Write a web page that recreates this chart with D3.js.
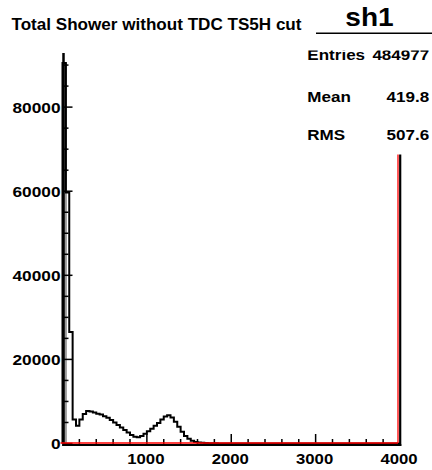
<!DOCTYPE html>
<html><head><meta charset="utf-8">
<script src="https://cdn.jsdelivr.net/npm/d3@7"></script>
<style>
body{margin:0;background:#fff}
svg{display:block}
text{font-family:"Liberation Sans",Arial,Helvetica,sans-serif;font-weight:bold;fill:#000}
</style>
</head><body>
<script>
// ---- data ----
const titleText = "Total Shower without TDC TS5H cut";
const statsName = "sh1";
const statsLabels = ["Entries", "Mean", "RMS"];
const statsValues = ["484977", "419.8", "507.6"];
const xRange = [0, 4000];
const binWidth = 40;
const yMax = 92870;
const xTickValues = [1000, 2000, 3000, 4000];
const yTickValues = [0, 20000, 40000, 60000, 80000];
// black histogram (bins of 40)
const countsMain = [
  90500, 59700, 26500, 5700, 4200, 5700, 7000, 7700, 7600, 7400,
  7100, 6900, 6500, 6100, 5600, 5000, 4400, 3800, 3200, 2600,
  2000, 1600, 1500, 1800, 2300, 2900, 3500, 4200, 4900, 5700,
  6400, 6700, 6200, 5200, 4000, 2800, 1800, 1100, 650, 380,
  230, 150, 100, 70, 50, 35, 25, 18, 12, 8,
  5, 3, 2, 1, 0, 0, 0, 0, 0, 0,
  0, 0, 0, 0, 0, 0, 0, 0, 0, 0,
  0, 0, 0, 0, 0, 0, 0, 0, 0, 0,
  0, 0, 0, 0, 0, 0, 0, 0, 0, 0,
  0, 0, 0, 0, 0, 0, 0, 0, 0, 0
];
// red histogram (empty within range)
const countsCut = countsMain.map(() => 0);

// ---- drawing ----
const W = 432, H = 470;
const svg = d3.select("body").append("svg").attr("width", W).attr("height", H);
const x = d3.scaleLinear().domain(xRange).range([62.5, 400]);
const y = d3.scaleLinear().domain([0, yMax]).range([443.5, 53]);

function fitWidth(sel, perChar) {
  sel.attr("textLength", d => String(d).length * perChar).attr("lengthAdjust", "spacingAndGlyphs");
}
function stretch(sel, f) {
  sel.each(function () {
    const L = this.getComputedTextLength();
    d3.select(this).attr("textLength", L * f).attr("lengthAdjust", "spacingAndGlyphs");
  });
}

const defs = svg.append("defs");
defs.append("clipPath").attr("id", "frameClip").append("rect")
  .attr("x", 0).attr("y", y(yMax)).attr("width", W).attr("height", H);
defs.append("clipPath").attr("id", "statClip").append("rect")
  .attr("x", 290).attr("y", 50.5).attr("width", 142).attr("height", 110);

function histPath(counts) {
  const p = d3.path();
  p.moveTo(x(xRange[0]), y(0));
  counts.forEach((c, i) => {
    const x0 = x(xRange[0] + i * binWidth), x1 = x(xRange[0] + (i + 1) * binWidth);
    p.lineTo(x0, y(c));
    p.lineTo(x1, y(c));
  });
  p.lineTo(x(xRange[1]), y(0));
  return p.toString();
}

const g = svg.append("g").attr("clip-path", "url(#frameClip)");
g.append("rect")
  .attr("x", x(0)).attr("width", x(binWidth) - x(0) + 1)
  .attr("y", y(countsMain[0])).attr("height", y(0) - y(countsMain[0]))
  .attr("fill", "#9a9a9a");
g.append("path").attr("d", histPath(countsMain))
  .attr("fill", "none").attr("stroke", "#000").attr("stroke-width", 2);
// right frame edge (black)
g.append("line").attr("x1", x(xRange[1]) + 0.2).attr("x2", x(xRange[1]) + 0.2)
  .attr("y1", y(yMax)).attr("y2", 446).attr("stroke", "#000").attr("stroke-width", 2.2);

// axes
const yAxisG = svg.append("g");
yAxisG.append("line").attr("x1", 63.5).attr("x2", 63.5).attr("y1", y(yMax)).attr("y2", 446)
  .attr("stroke", "#000").attr("stroke-width", 2.5);
d3.range(0, yMax, 5000).forEach(v => {
  const major = v % 20000 === 0;
  yAxisG.append("line").attr("x1", 63.5).attr("x2", 63.5 + (major ? 9 : 5))
    .attr("y1", y(v)).attr("y2", y(v)).attr("stroke", "#000").attr("stroke-width", 1.5);
});
yAxisG.selectAll("text.yl").data(yTickValues).join("text").attr("class", "yl")
  .attr("x", 60.5).attr("y", d => y(d) + 5.5).attr("text-anchor", "end")
  .attr("font-size", 15).text(d => d).call(fitWidth, 9.6);

const xAxisG = svg.append("g");
xAxisG.append("line").attr("x1", 62.3).attr("x2", 401.3).attr("y1", 445).attr("y2", 445)
  .attr("stroke", "#000").attr("stroke-width", 2);
d3.range(200, xRange[1], 200).forEach(v => {
  const major = v % 1000 === 0;
  xAxisG.append("line").attr("x1", x(v)).attr("x2", x(v))
    .attr("y1", 444).attr("y2", 444 - (major ? 10 : 5)).attr("stroke", "#000").attr("stroke-width", 1.5);
});
xAxisG.selectAll("text.xl").data(xTickValues).join("text").attr("class", "xl")
  .attr("x", d => x(d) - 1).attr("y", 463.8).attr("text-anchor", "middle")
  .attr("font-size", 15).text(d => d).call(fitWidth, 9.3);

// red histogram on top, plus its right edge
const rg = svg.append("g").attr("clip-path", "url(#frameClip)").attr("transform", "translate(-2,-0.5)");
rg.append("path").attr("d", histPath(countsCut))
  .attr("fill", "none").attr("stroke", "#ff0000").attr("stroke-width", 1.3);
rg.append("line").attr("x1", x(xRange[1])).attr("x2", x(xRange[1]))
  .attr("y1", y(yMax)).attr("y2", y(0)).attr("stroke", "#ff0000").attr("stroke-width", 1.3);

// stats box
svg.append("rect").attr("x", 303).attr("y", 34).attr("width", 129).attr("height", 120.5).attr("fill", "#fff");
svg.append("line").attr("x1", 316).attr("x2", 432).attr("y1", 33.3).attr("y2", 33.3)
  .attr("stroke", "#000").attr("stroke-width", 1.5);
svg.append("text").attr("x", 369.5).attr("y", 25.5).attr("text-anchor", "middle")
  .attr("font-size", 26).text(statsName).call(stretch, 1.08);
const sg = svg.append("g").attr("clip-path", "url(#statClip)");
const rowY = [60, 101.7, 140];
sg.selectAll("text.sl").data(statsLabels).join("text").attr("class", "sl")
  .attr("x", 307.3).attr("y", (d, i) => rowY[i]).attr("font-size", 15.5)
  .text(d => d).call(stretch, 1.1);
sg.selectAll("text.sv").data(statsValues).join("text").attr("class", "sv")
  .attr("x", 429.3).attr("y", (d, i) => rowY[i]).attr("text-anchor", "end").attr("font-size", 15.5)
  .text(d => d).call(stretch, 1.1);

// title
svg.append("text").attr("x", 11.5).attr("y", 30).attr("font-size", 16)
  .attr("textLength", 290).attr("lengthAdjust", "spacingAndGlyphs").text(titleText);
</script>
</body></html>
